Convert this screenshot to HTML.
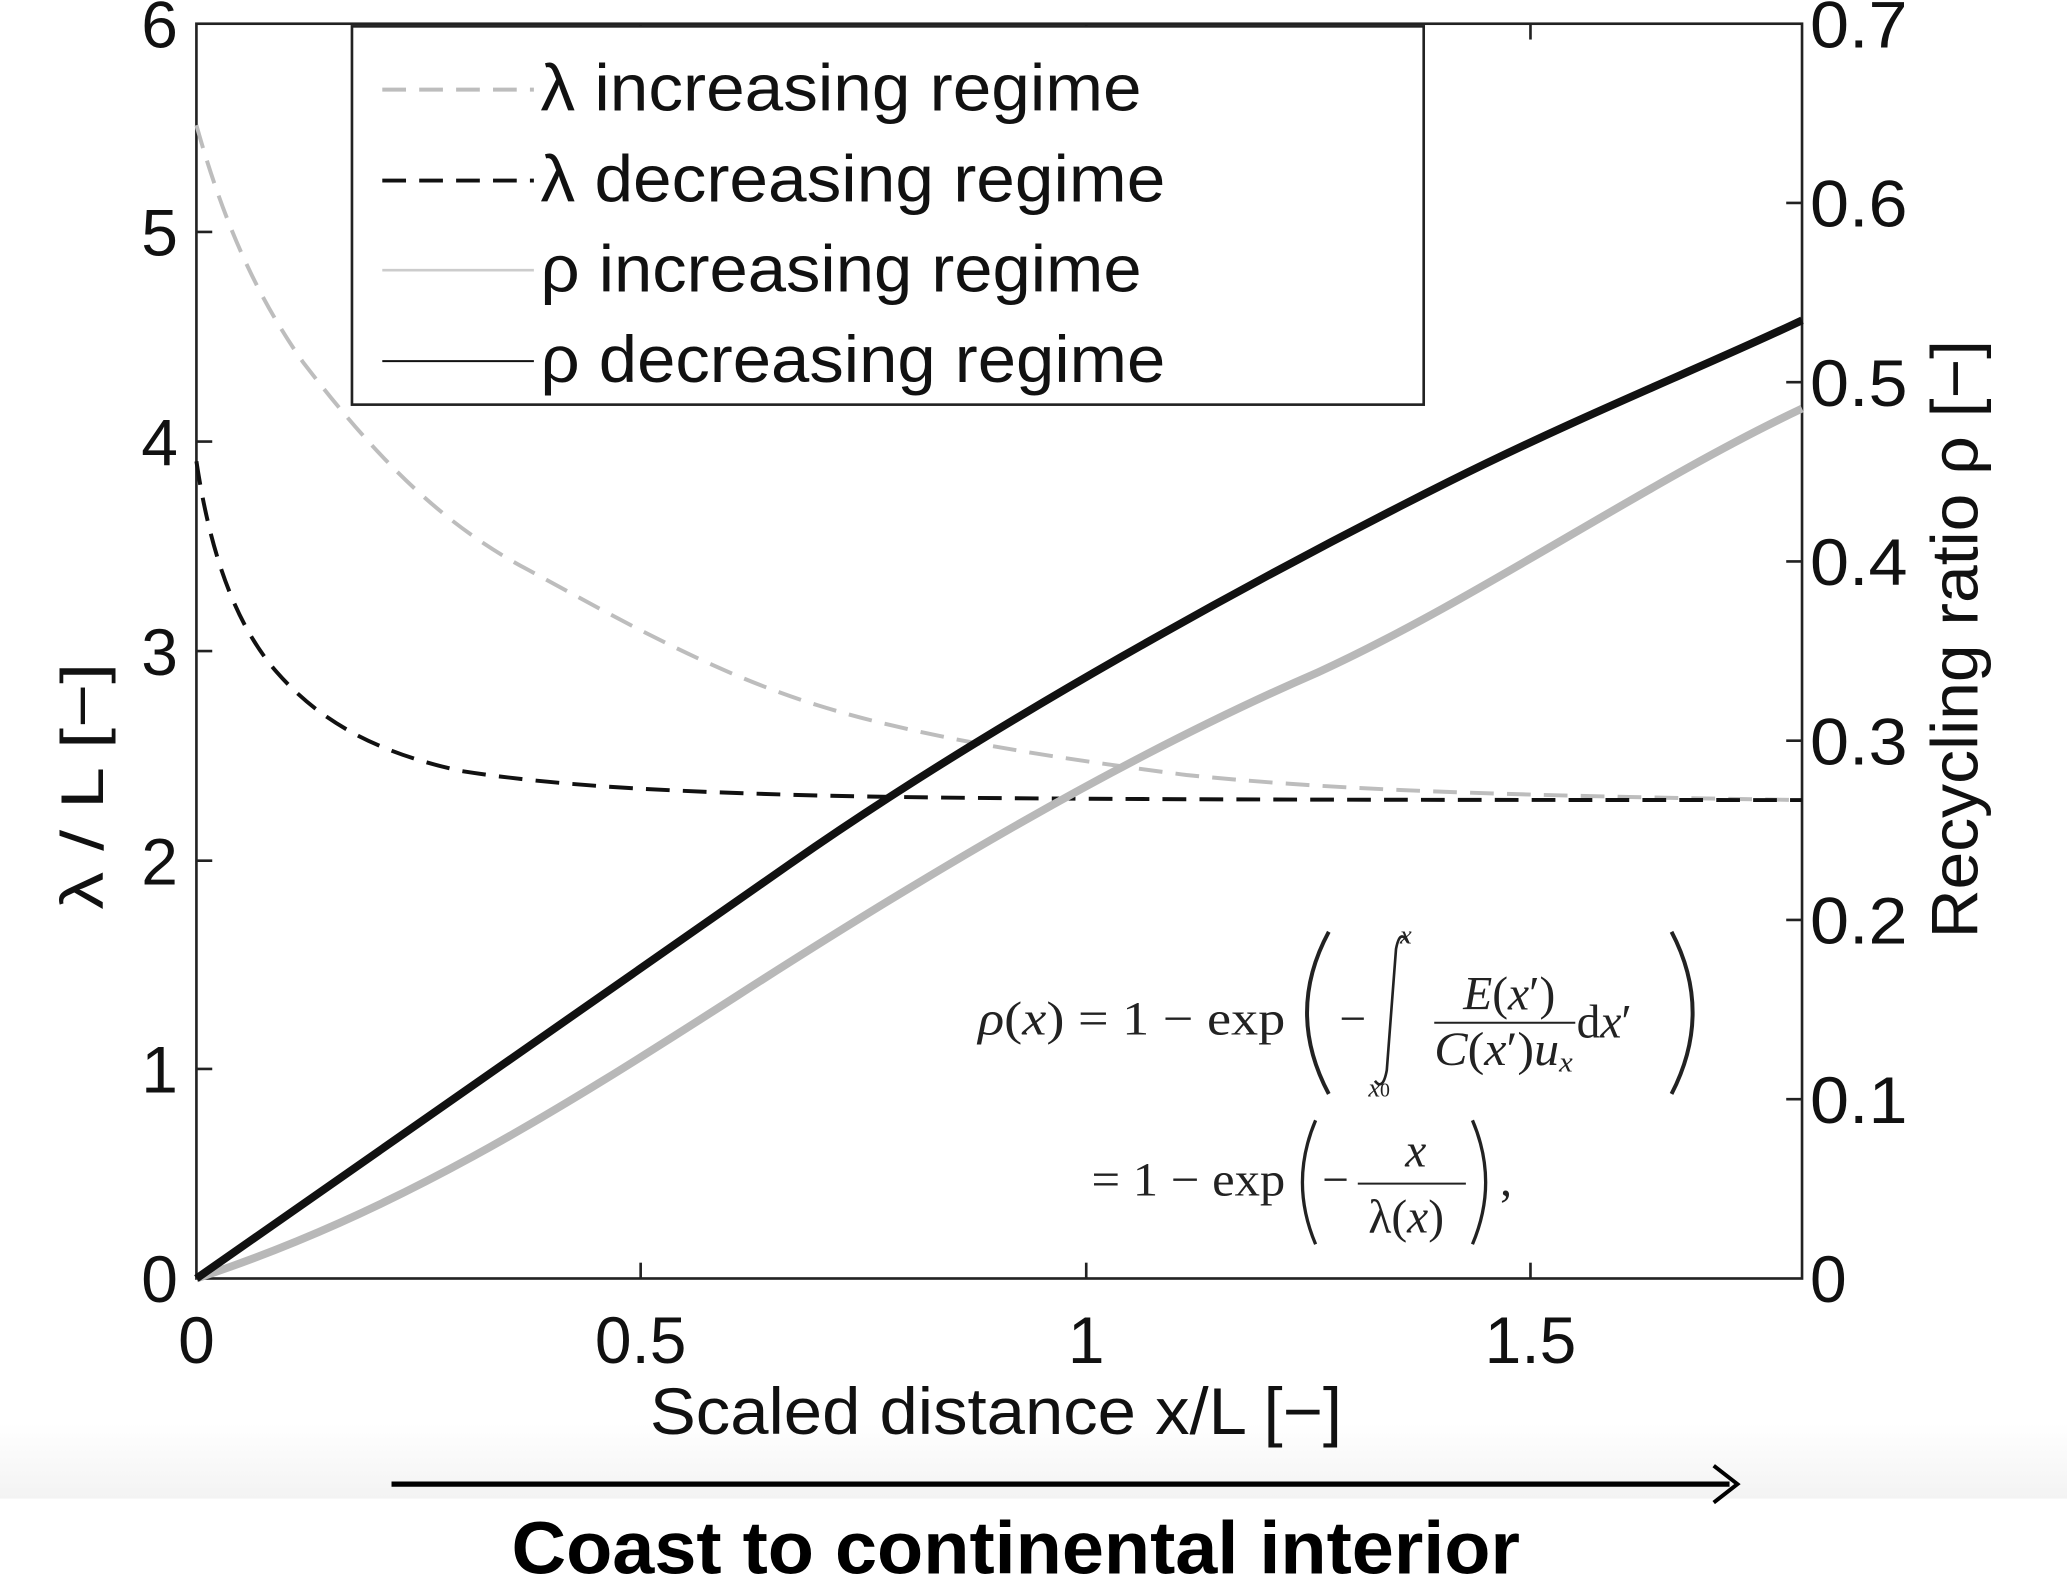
<!DOCTYPE html>
<html><head><meta charset="utf-8"><style>
html,body{margin:0;padding:0;background:#fff;}
svg{display:block;}
</style></head><body>
<svg width="2067" height="1579" viewBox="0 0 1568 1198" preserveAspectRatio="none" xmlns="http://www.w3.org/2000/svg">
<defs><linearGradient id="g" x1="0" y1="0" x2="0" y2="1"><stop offset="0" stop-color="#fff"/><stop offset="1" stop-color="#f3f3f3"/></linearGradient></defs>
<rect x="0" y="0" width="1568" height="1198" fill="#fff"/>
<rect x="0" y="1080" width="1568" height="57" fill="url(#g)"/>
<g font-family="Liberation Sans, sans-serif" font-size="50" fill="#111">
<rect x="149" y="18" width="1218" height="952" fill="none" stroke="#222" stroke-width="2"/>
<g stroke="#222" stroke-width="2">
<line x1="149" y1="811" x2="161" y2="811"/><line x1="149" y1="653" x2="161" y2="653"/><line x1="149" y1="494" x2="161" y2="494"/><line x1="149" y1="335" x2="161" y2="335"/><line x1="149" y1="176" x2="161" y2="176"/>
<line x1="1367" y1="834" x2="1355" y2="834"/><line x1="1367" y1="698" x2="1355" y2="698"/><line x1="1367" y1="562" x2="1355" y2="562"/><line x1="1367" y1="426" x2="1355" y2="426"/><line x1="1367" y1="290" x2="1355" y2="290"/><line x1="1367" y1="154" x2="1355" y2="154"/>
<line x1="486" y1="970" x2="486" y2="958"/><line x1="824" y1="970" x2="824" y2="958"/><line x1="1161" y1="970" x2="1161" y2="958"/>
<line x1="486" y1="18" x2="486" y2="30"/><line x1="824" y1="18" x2="824" y2="30"/><line x1="1161" y1="18" x2="1161" y2="30"/>
</g>
<g text-anchor="end">
<text x="135" y="988">0</text><text x="135" y="829">1</text><text x="135" y="671">2</text><text x="135" y="512">3</text><text x="135" y="353">4</text><text x="135" y="194">5</text><text x="135" y="36">6</text>
</g>
<g>
<text x="1373" y="988">0</text><text x="1373" y="852" textLength="74" lengthAdjust="spacingAndGlyphs">0.1</text><text x="1373" y="716" textLength="74" lengthAdjust="spacingAndGlyphs">0.2</text><text x="1373" y="580" textLength="74" lengthAdjust="spacingAndGlyphs">0.3</text><text x="1373" y="444" textLength="74" lengthAdjust="spacingAndGlyphs">0.4</text><text x="1373" y="308" textLength="74" lengthAdjust="spacingAndGlyphs">0.5</text><text x="1373" y="172" textLength="74" lengthAdjust="spacingAndGlyphs">0.6</text><text x="1373" y="36" textLength="74" lengthAdjust="spacingAndGlyphs">0.7</text>
</g>
<g text-anchor="middle">
<text x="149" y="1034">0</text><text x="486" y="1034">0.5</text><text x="824" y="1034">1</text><text x="1161" y="1034">1.5</text>
</g>
<text x="493" y="1088" textLength="525" lengthAdjust="spacingAndGlyphs">Scaled distance x/L [−]</text>
<text transform="translate(78,690) rotate(-90)" font-size="46" textLength="187" lengthAdjust="spacingAndGlyphs">λ / L [−]</text>
<text transform="translate(1500,712) rotate(-90)" textLength="454" lengthAdjust="spacingAndGlyphs">Recycling ratio ρ [−]</text>
<path d="M149,95 C170,170 195,225 230,275 C280,340 330,395 400,432 C470,470 540,510 620,535 C700,560 800,575 900,588 C1000,598 1100,603 1367,607" fill="none" stroke="#bdbdbd" stroke-width="3" stroke-dasharray="18,10"/>
<path d="M149,350 C158,410 175,470 210,510 C245,550 290,572 350,585 C420,596 500,600 600,603 C700,606 900,607 1367,607" fill="none" stroke="#111" stroke-width="3" stroke-dasharray="18,10"/>
<path d="M149,970 C300,920 420,845 560,755 C700,665 850,575 1000,510 C1120,455 1250,365 1367,310" fill="none" stroke="#b8b8b8" stroke-width="6"/>
<path d="M149,970 C300,865 450,760 600,655 C750,550 950,440 1100,365 C1200,315 1300,275 1367,243" fill="none" stroke="#111" stroke-width="6"/>
<rect x="267" y="20" width="813" height="287" fill="#fff" stroke="#222" stroke-width="2"/>
<line x1="290" y1="68" x2="405" y2="68" stroke="#bdbdbd" stroke-width="3" stroke-dasharray="18,10"/>
<line x1="290" y1="137" x2="405" y2="137" stroke="#111" stroke-width="3" stroke-dasharray="18,10"/>
<line x1="290" y1="205" x2="405" y2="205" stroke="#ccc" stroke-width="2"/>
<line x1="290" y1="274" x2="405" y2="274" stroke="#111" stroke-width="1.5"/>
<text x="410" y="84" textLength="456" lengthAdjust="spacingAndGlyphs">λ increasing regime</text>
<text x="410" y="153" textLength="474" lengthAdjust="spacingAndGlyphs">λ decreasing regime</text>
<text x="410" y="221" textLength="456" lengthAdjust="spacingAndGlyphs">ρ increasing regime</text>
<text x="410" y="290" textLength="474" lengthAdjust="spacingAndGlyphs">ρ decreasing regime</text>
</g>
<g font-family="Liberation Serif, serif" font-size="36" fill="#222">
<text x="742" y="785" textLength="233" lengthAdjust="spacingAndGlyphs"><tspan font-style="italic">ρ</tspan>(<tspan font-style="italic">x</tspan>) = 1 − exp</text>
<path d="M1008,707 Q975,768 1008,830" fill="none" stroke="#222" stroke-width="3"/>
<text x="1016" y="785">−</text>
<path d="M1068,715 Q1062,704 1059,720 L1052,812 Q1049,828 1043,820" fill="none" stroke="#222" stroke-width="2"/>
<text x="1062" y="716" font-size="20" font-style="italic">x</text>
<text x="1038" y="832" font-size="20" font-style="italic">x<tspan font-style="normal" font-size="15">0</tspan></text>
<text x="1110" y="766" font-style="italic">E<tspan font-style="normal">(</tspan>x<tspan font-style="normal">′)</tspan></text>
<line x1="1088" y1="776" x2="1195" y2="776" stroke="#222" stroke-width="1.5"/>
<text x="1088" y="808" font-style="italic" textLength="105" lengthAdjust="spacingAndGlyphs">C<tspan font-style="normal">(</tspan>x<tspan font-style="normal">′)</tspan>u<tspan font-size="22" dy="5">x</tspan></text>
<text x="1196" y="787">d<tspan font-style="italic">x</tspan>′</text>
<path d="M1268,707 Q1300,768 1268,830" fill="none" stroke="#222" stroke-width="3"/>
<text x="828" y="907" textLength="147" lengthAdjust="spacingAndGlyphs">= 1 − exp</text>
<path d="M998,850 Q978,897 998,944" fill="none" stroke="#222" stroke-width="2.5"/>
<text x="1003" y="907">−</text>
<text x="1066" y="885" font-style="italic">x</text>
<line x1="1030" y1="898" x2="1112" y2="898" stroke="#222" stroke-width="1.5"/>
<text x="1038" y="935">λ(<tspan font-style="italic">x</tspan>)</text>
<path d="M1117,850 Q1137,897 1117,944" fill="none" stroke="#222" stroke-width="2.5"/>
<text x="1138" y="907">,</text>
</g>
<line x1="297" y1="1126" x2="1312" y2="1126" stroke="#000" stroke-width="4"/>
<path d="M1300,1112 L1318,1126 L1300,1140" fill="none" stroke="#000" stroke-width="3"/>
<text x="388" y="1194" textLength="765" lengthAdjust="spacingAndGlyphs" font-family="Liberation Sans, sans-serif" font-weight="bold" font-size="56" fill="#000">Coast to continental interior</text>
</svg>
</body></html>
